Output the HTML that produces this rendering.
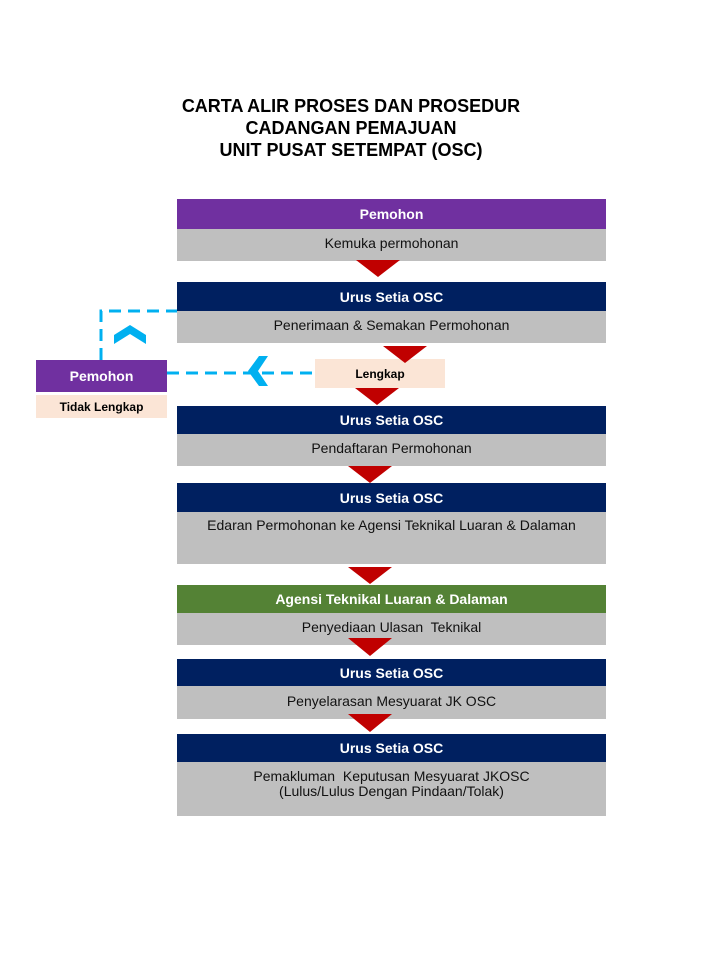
<!DOCTYPE html>
<html><head><meta charset="utf-8"><style>
body{margin:0;width:720px;height:960px;background:#fff;position:relative;font-family:"Liberation Sans",Arial,sans-serif;overflow:hidden}
.b{position:absolute;display:flex;align-items:center;justify-content:center;text-align:center;box-sizing:border-box}
.h{color:#fff;font-weight:bold;font-size:14px}
.g{background:#bfbfbf;color:#111;font-size:14px;padding-bottom:4px}
.n{background:#002060}
.t{position:absolute;left:0;width:702px;text-align:center;font-weight:bold;font-size:18px;color:#000}
</style></head><body>
<div class="t" style="top:96px">CARTA ALIR PROSES DAN PROSEDUR</div>
<div class="t" style="top:118px">CADANGAN PEMAJUAN</div>
<div class="t" style="top:140px">UNIT PUSAT SETEMPAT (OSC)</div>

<div class="b h" style="left:177px;top:199px;width:429px;height:30px;background:#7030a0">Pemohon</div>
<div class="b g" style="left:177px;top:229px;width:429px;height:32px">Kemuka permohonan</div>

<div class="b h n" style="left:177px;top:282px;width:429px;height:29px">Urus Setia OSC</div>
<div class="b g" style="left:177px;top:311px;width:429px;height:32px">Penerimaan &amp; Semakan Permohonan</div>

<div class="b h n" style="left:177px;top:406px;width:429px;height:28px">Urus Setia OSC</div>
<div class="b g" style="left:177px;top:434px;width:429px;height:32px">Pendaftaran Permohonan</div>

<div class="b h n" style="left:177px;top:483px;width:429px;height:29px">Urus Setia OSC</div>
<div class="b g" style="left:177px;top:512px;width:429px;height:52px;align-items:flex-start;padding-top:5px">Edaran Permohonan ke Agensi Teknikal Luaran &amp; Dalaman</div>

<div class="b h" style="left:177px;top:585px;width:429px;height:28px;background:#548235">Agensi Teknikal Luaran &amp; Dalaman</div>
<div class="b g" style="left:177px;top:613px;width:429px;height:32px">Penyediaan Ulasan&nbsp; Teknikal</div>

<div class="b h n" style="left:177px;top:659px;width:429px;height:27px">Urus Setia OSC</div>
<div class="b g" style="left:177px;top:686px;width:429px;height:33px">Penyelarasan Mesyuarat JK OSC</div>

<div class="b h n" style="left:177px;top:734px;width:429px;height:28px">Urus Setia OSC</div>
<div class="b g" style="left:177px;top:762px;width:429px;height:54px;align-items:flex-start;padding-top:7px;line-height:15px">Pemakluman&nbsp; Keputusan Mesyuarat JKOSC<br>(Lulus/Lulus Dengan Pindaan/Tolak)</div>

<div class="b" style="left:315px;top:359px;width:130px;height:29px;background:#fbe5d6;font-weight:bold;font-size:12px">Lengkap</div>
<div class="b h" style="left:36px;top:360px;width:131px;height:32px;background:#7030a0">Pemohon</div>
<div class="b" style="left:36px;top:395px;width:131px;height:23px;background:#fbe5d6;font-weight:bold;font-size:12px">Tidak Lengkap</div>

<svg width="720" height="960" style="position:absolute;left:0;top:0">
<g fill="#c00000">
<polygon points="356,260 400,260 378,277"/>
<polygon points="383,346 427,346 405,363"/>
<polygon points="355,388 399,388 377,405"/>
<polygon points="348,466 392,466 370,483"/>
<polygon points="348,567 392,567 370,584"/>
<polygon points="348,638 392,638 370,656"/>
<polygon points="348,714 392,714 370,732"/>
</g>
<g stroke="#00b0f0" stroke-width="3" fill="none" stroke-dasharray="12,7">
<polyline points="101,360 101,311 177,311"/>
<line x1="167" y1="373" x2="315" y2="373"/>
</g>
<g fill="#00b0f0">
<polygon points="114,344 130,334 146,344 146,335 130,325 114,335"/>
<polygon points="259,356 248,371 259,386 268,386 258,371 268,356"/>
</g>
</svg>
</body></html>
